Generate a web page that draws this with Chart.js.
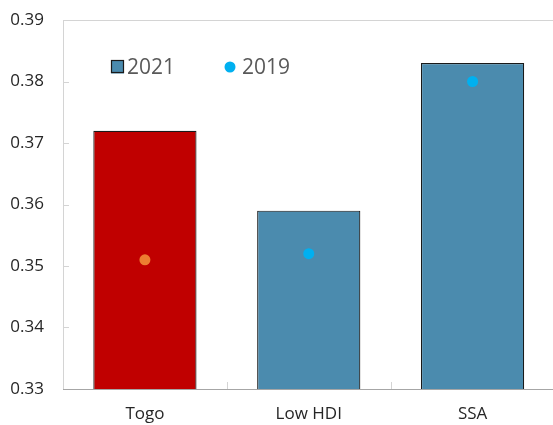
<!DOCTYPE html>
<html>
<head>
<meta charset="utf-8">
<script src="https://cdn.jsdelivr.net/npm/chart.js@4"></script>
<style>
    body { margin: 0; overflow: hidden; background: #fff; }
    canvas { display: block; }
</style>
</head>
<body>
<canvas id="chart" width="560" height="425"></canvas>
<script>
const categories = ["Togo", "Low HDI", "SSA"];
const values2021 = [0.372, 0.359, 0.383];
const values2019 = [0.351, 0.352, 0.380];
const barColors = ["#C00000", "#4B8BAE", "#4B8BAE"];
const dotColors = ["#ED7D31", "#00B0F0", "#00B0F0"];
const yTicks = [0.33, 0.34, 0.35, 0.36, 0.37, 0.38, 0.39];

const frameColor = "#D4D4D4";
const axisColor = "#A6A6A6";
const fontFamily = "'Open Sans', 'Noto Sans', sans-serif";

// frame, inner tick marks and the legend inside the plot
const framePlugin = {
    id: "frame",
    afterDraw(chart) {
        let ctx = chart.ctx;
        let area = chart.chartArea;
        let y = chart.scales.y;
        let x = chart.scales.x;
        let left = area.left + 0.5;
        let top = area.top + 0.5;
        let bottom = area.bottom + 0.5;

        ctx.save();
        ctx.lineWidth = 1;
        ctx.strokeStyle = frameColor;
        ctx.beginPath();
        ctx.moveTo(area.right + 10, top);
        ctx.lineTo(left, top);
        ctx.lineTo(left, bottom);
        yTicks.forEach(v => {
            let py = Math.round(y.getPixelForValue(v)) + 0.5;
            ctx.moveTo(area.left, py);
            ctx.lineTo(area.left + 6, py);
        });
        ctx.stroke();

        ctx.strokeStyle = axisColor;
        ctx.beginPath();
        ctx.moveTo(area.left, bottom);
        ctx.lineTo(area.right + 10, bottom);
        ctx.stroke();

        ctx.strokeStyle = frameColor;
        ctx.beginPath();
        for (let i = 1; i < categories.length; i++) {
            let px = Math.round((x.getPixelForValue(i - 1) + x.getPixelForValue(i)) / 2) + 0.5;
            ctx.moveTo(px, area.bottom);
            ctx.lineTo(px, area.bottom - 7);
        }
        ctx.stroke();

        // legend
        let lx = area.left + 48;
        let ly = area.top + 47;
        ctx.fillStyle = "#4B8BAE";
        ctx.fillRect(lx, ly - 6.5, 13, 13);
        ctx.strokeStyle = "#1a1a1a";
        ctx.lineWidth = 1.2;
        ctx.strokeRect(lx + 0.5, ly - 6.5, 12, 12);

        ctx.font = "21px " + fontFamily;
        ctx.fillStyle = "#595959";
        ctx.textBaseline = "middle";
        ctx.fillText(chart.data.datasets[0].label, lx + 16, ly + 1);

        ctx.beginPath();
        ctx.fillStyle = "#00B0F0";
        ctx.arc(lx + 119, ly, 5.5, 0, Math.PI * 2);
        ctx.fill();
        ctx.fillStyle = "#595959";
        ctx.fillText(chart.data.datasets[1].label, lx + 131, ly + 1);
        ctx.restore();
    }
};

const myChart = new Chart(document.getElementById("chart"), {
    type: "bar",
    data: {
        labels: categories,
        datasets: [{
            label: "2021",
            data: values2021,
            backgroundColor: barColors,
            borderColor: "#1a1a1a",
            borderWidth: 1.2,
            categoryPercentage: 1,
            barPercentage: 0.63,
            order: 2
        }, {
            type: "line",
            label: "2019",
            data: values2019,
            showLine: false,
            pointRadius: 5.5,
            pointHoverRadius: 5.5,
            pointBackgroundColor: dotColors,
            pointBorderWidth: 0,
            order: 1
        }]
    },
    options: {
        responsive: false,
        animation: false,
        layout: { padding: { top: 20, right: 5, left: 0, bottom: 0 } },
        plugins: {
            legend: { display: false },
            tooltip: { enabled: false }
        },
        scales: {
            x: {
                grid: { display: false },
                border: { display: false },
                ticks: {
                    color: "#262626",
                    padding: 7,
                    font: { family: fontFamily, size: 17 }
                },
                afterFit(scale) { scale.height = 36; }
            },
            y: {
                min: 0.33,
                max: 0.39,
                // invisible tick marks push the labels away from the axis
                grid: {
                    drawOnChartArea: false,
                    drawTicks: true,
                    tickLength: 19,
                    color: "rgba(0,0,0,0)"
                },
                border: { display: false },
                afterBuildTicks(scale) {
                    scale.ticks = yTicks.map(v => ({ value: v }));
                },
                ticks: {
                    color: "#262626",
                    padding: 0,
                    font: { family: fontFamily, size: 17 },
                    callback: v => v.toFixed(2)
                },
                afterFit(scale) { scale.width = 63; }
            }
        }
    },
    plugins: [framePlugin]
});
</script>
</body>
</html>
